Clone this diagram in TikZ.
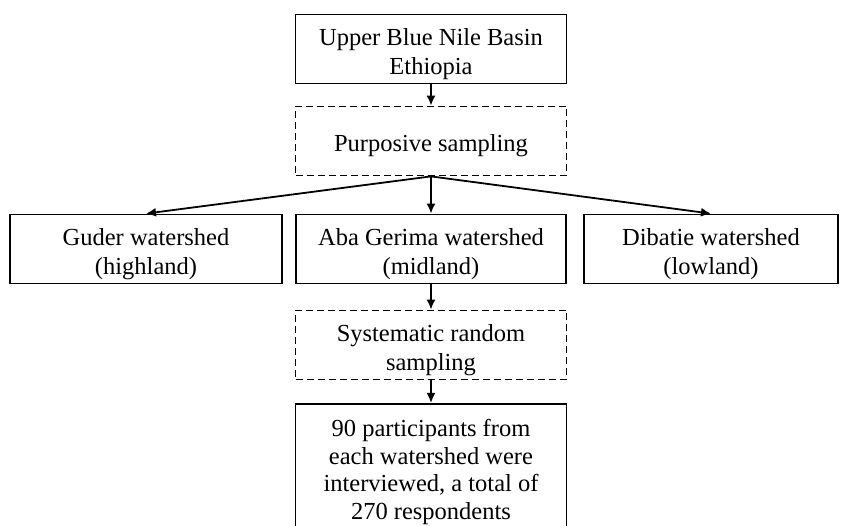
\documentclass[tikz,border=0pt]{standalone}
\usepackage{fontspec}
\setmainfont{Liberation Serif}
\usetikzlibrary{arrows.meta}
\newcommand\mystrutA{\rule{0pt}{27pt}}
\begin{document}
\begin{tikzpicture}[x=1pt,y=-1pt,
  box/.style={draw, line width=1.8pt, align=center, inner sep=0pt,
    font=\fontsize{24.5}{28.5}\selectfont, minimum height=69pt},
  dbox/.style={box, dash pattern=on 7pt off 4pt},
  arr/.style={line width=1.8pt, -{Latex[length=10pt,width=9pt]}}]
\clip (0,0) rectangle (844,526);
\fill[white] (0,0) rectangle (844,526);
\node[box, minimum width=271pt] (top) at (431,49) {\mystrutA Upper Blue Nile Basin\\Ethiopia};
\node[dbox, minimum width=271pt] (ps) at (431,141) {\mystrutA Purposive sampling};
\node[box, minimum width=272pt] (gud) at (146,249) {\mystrutA Guder watershed\\(highland)};
\node[box, minimum width=270pt] (aba) at (431,249) {\mystrutA Aba Gerima watershed\\(midland)};
\node[box, minimum width=254pt] (dib) at (711,249) {\mystrutA Dibatie watershed\\(lowland)};
\node[dbox, minimum width=271pt] (srs) at (431,345) {\mystrutA Systematic random\\sampling};
\node[box, minimum width=271pt, minimum height=136pt, anchor=north,
  font=\fontsize{24.5}{27.5}\selectfont] (res) at (431,403)
  {90 participants from\\each watershed were\\interviewed, a total of\\270 respondents};
\draw[arr] (top.south) -- (ps.north);
\draw[arr] (ps.south) -- (gud.north);
\draw[arr] (ps.south) -- (aba.north);
\draw[arr] (ps.south) -- (dib.north);
\draw[arr] (aba.south) -- (srs.north);
\draw[arr] (srs.south) -- (res.north);
\end{tikzpicture}
\end{document}
